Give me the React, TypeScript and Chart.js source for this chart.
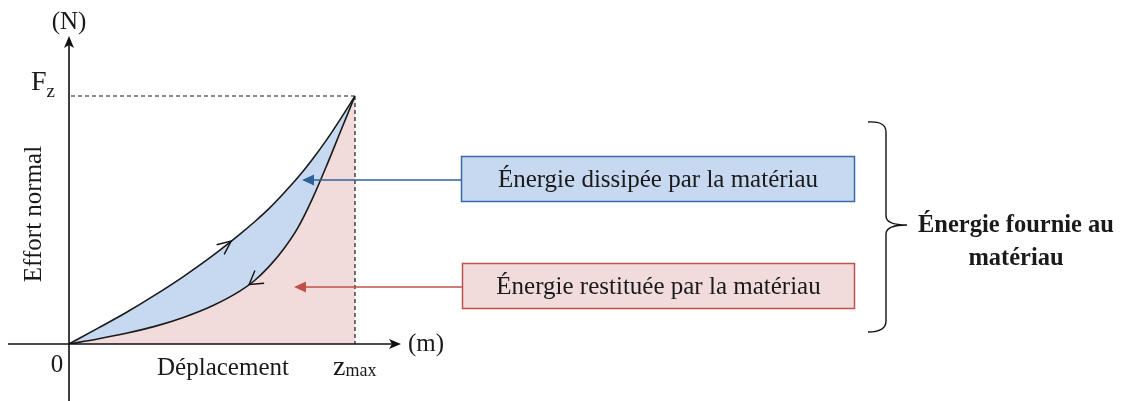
import React, { useEffect, useRef } from "react";
import { Chart, registerables } from "chart.js";

Chart.register(...registerables);

// Displacement, normalised to z_max = 1
const displacement = [0, 0.1, 0.2, 0.3, 0.4, 0.5, 0.6, 0.65, 0.7, 0.75, 0.8, 0.85, 0.9, 0.95, 1];
// Normal force during loading (upper curve), normalised to F_z = 1
const loadingForce = [0, 0.063, 0.127, 0.197, 0.272, 0.354, 0.445, 0.494, 0.547, 0.607, 0.671, 0.743, 0.822, 0.909, 1];
// Normal force during unloading (lower curve)
const unloadingForce = [0, 0.02, 0.043, 0.071, 0.107, 0.153, 0.215, 0.257, 0.313, 0.382, 0.468, 0.583, 0.717, 0.859, 1];

const yAxisUnit = "(N)";
const xAxisUnit = "(m)";
const yAxisTitle = "Effort normal";
const xAxisTitle = "Déplacement";
const originLabel = "0";
const forceTick = ["F", "z"];
const dispTick = ["z", "max"];
const dissipatedLabel = "Énergie dissipée par la matériau";
const restoredLabel = "Énergie restituée par la matériau";
const suppliedLabel = ["Énergie fournie au", "matériau"];

const SERIF = "'Liberation Serif', 'Times New Roman', serif";

function interp(xs: number[], ys: number[], x: number) {
  for (let i = 0; i < xs.length - 1; i++) {
    if (x >= xs[i] && x <= xs[i + 1]) {
      const t = (x - xs[i]) / (xs[i + 1] - xs[i]);
      return ys[i] + t * (ys[i + 1] - ys[i]);
    }
  }
  return ys[ys.length - 1];
}

export default function App() {
  const ref = useRef<HTMLCanvasElement>(null);

  useEffect(() => {
    document.body.style.margin = "0";
    const canvas = ref.current!;

    const annot = {
      id: "annot",
      afterDraw(chart: any) {
        const ctx: CanvasRenderingContext2D = chart.ctx;
        const xs = chart.scales.x;
        const ys = chart.scales.y;
        const X = (v: number) => xs.getPixelForValue(v);
        const Y = (v: number) => ys.getPixelForValue(v);
        const x0 = X(0), y0 = Y(0), x1 = X(1), y1 = Y(1);
        ctx.save();

        // dashed guides
        ctx.strokeStyle = "#1a1a1a";
        ctx.lineWidth = 1.2;
        ctx.setLineDash([4, 3]);
        ctx.beginPath();
        ctx.moveTo(x0 + 2, y1);
        ctx.lineTo(x1, y1);
        ctx.moveTo(x1, y1);
        ctx.lineTo(x1, y0);
        ctx.stroke();
        ctx.setLineDash([]);

        // axes
        ctx.strokeStyle = "#111";
        ctx.fillStyle = "#111";
        ctx.lineWidth = 1.6;
        ctx.beginPath();
        ctx.moveTo(x0, 401);
        ctx.lineTo(x0, 44);
        ctx.moveTo(8, y0);
        ctx.lineTo(394, y0);
        ctx.stroke();
        // y arrowhead
        ctx.beginPath();
        ctx.moveTo(x0, 36);
        ctx.lineTo(x0 + 5, 48);
        ctx.lineTo(x0, 45);
        ctx.lineTo(x0 - 5, 48);
        ctx.closePath();
        ctx.fill();
        // x arrowhead
        ctx.beginPath();
        ctx.moveTo(401, y0);
        ctx.lineTo(389, y0 - 5);
        ctx.lineTo(392, y0);
        ctx.lineTo(389, y0 + 5);
        ctx.closePath();
        ctx.fill();

        // labels
        ctx.fillStyle = "#1a1a1a";
        ctx.textAlign = "center";
        ctx.textBaseline = "middle";
        ctx.font = `25px ${SERIF}`;
        ctx.fillText(yAxisUnit, x0, 22);
        ctx.textAlign = "left";
        ctx.fillText(xAxisUnit, 408, y0);
        ctx.textBaseline = "alphabetic";
        ctx.textAlign = "center";
        ctx.fillText(originLabel, 57, 372);
        ctx.fillText(xAxisTitle, 223, 375);
        // F_z
        ctx.textAlign = "left";
        ctx.font = `28px ${SERIF}`;
        ctx.fillText(forceTick[0], 31, 90);
        const fw = ctx.measureText(forceTick[0]).width;
        ctx.font = `19px ${SERIF}`;
        ctx.fillText(forceTick[1], 31 + fw, 97);
        // z_max
        ctx.font = `28px ${SERIF}`;
        ctx.fillText(dispTick[0], 333, 375);
        const zw = ctx.measureText(dispTick[0]).width;
        ctx.font = `18px ${SERIF}`;
        ctx.fillText(dispTick[1], 333 + zw, 376);
        // y title rotated
        ctx.save();
        ctx.translate(34, 214);
        ctx.rotate(-Math.PI / 2);
        ctx.textAlign = "center";
        ctx.textBaseline = "middle";
        ctx.font = `25px ${SERIF}`;
        ctx.fillText(yAxisTitle, 0, 0);
        ctx.restore();

        // chevrons on curves
        const chevron = (arr: number[], dx: number, dir: number, spread: number) => {
          const px = X(dx), py = Y(interp(displacement, arr, dx));
          const ax = X(dx - 0.02), ay = Y(interp(displacement, arr, dx - 0.02));
          const bx = X(dx + 0.02), by = Y(interp(displacement, arr, dx + 0.02));
          let ang = Math.atan2(by - ay, bx - ax);
          if (dir < 0) ang += Math.PI;
          const back = ang + Math.PI;
          const L = 15;
          ctx.beginPath();
          ctx.moveTo(px + L * Math.cos(back - spread), py + L * Math.sin(back - spread));
          ctx.lineTo(px, py);
          ctx.lineTo(px + L * Math.cos(back + spread), py + L * Math.sin(back + spread));
          ctx.strokeStyle = "#111";
          ctx.lineWidth = 1.4;
          ctx.stroke();
        };
        chevron(loadingForce, 0.567, 1, 0.42);
        chevron(unloadingForce, 0.63, -1, 0.55);

        // boxes
        const box = (x: number, y: number, w: number, h: number, fill: string, stroke: string, text: string) => {
          ctx.fillStyle = fill;
          ctx.fillRect(x, y, w, h);
          ctx.strokeStyle = stroke;
          ctx.lineWidth = 1.5;
          ctx.strokeRect(x, y, w, h);
          ctx.fillStyle = "#1a1a1a";
          ctx.font = `25px ${SERIF}`;
          ctx.textAlign = "center";
          ctx.textBaseline = "middle";
          ctx.fillText(text, x + w / 2, y + h / 2 + 1);
        };
        box(461.5, 156.5, 393, 45, "#c6d9f1", "#3a6aa5", dissipatedLabel);
        box(462.5, 263.5, 392, 45, "#f2dcdb", "#c0504d", restoredLabel);

        // arrows from boxes
        const arrow = (fromX: number, y: number, tipX: number, color: string) => {
          ctx.strokeStyle = color;
          ctx.fillStyle = color;
          ctx.lineWidth = 1.5;
          ctx.beginPath();
          ctx.moveTo(fromX, y);
          ctx.lineTo(tipX + 10, y);
          ctx.stroke();
          ctx.beginPath();
          ctx.moveTo(tipX, y);
          ctx.lineTo(tipX + 12, y - 5.5);
          ctx.lineTo(tipX + 12, y + 5.5);
          ctx.closePath();
          ctx.fill();
        };
        arrow(461, 180, 302, "#2f6098");
        arrow(462, 287, 294, "#c0504d");

        // brace
        ctx.strokeStyle = "#111";
        ctx.lineWidth = 1.4;
        ctx.beginPath();
        ctx.moveTo(868, 122);
        ctx.quadraticCurveTo(886, 121, 886, 132);
        ctx.lineTo(886, 216);
        ctx.quadraticCurveTo(886, 225, 907, 225);
        ctx.quadraticCurveTo(886, 225, 886, 234);
        ctx.lineTo(886, 321);
        ctx.quadraticCurveTo(886, 332, 868, 332);
        ctx.stroke();

        ctx.fillStyle = "#1a1a1a";
        ctx.font = `bold 24.5px ${SERIF}`;
        ctx.textAlign = "center";
        ctx.textBaseline = "alphabetic";
        ctx.fillText(suppliedLabel[0], 1016, 232);
        ctx.fillText(suppliedLabel[1], 1016, 265);

        ctx.restore();
      },
    };

    const chart = new Chart(canvas, {
      type: "line",
      data: {
        datasets: [
          {
            label: "Déchargement",
            data: displacement.map((x, i) => ({ x, y: unloadingForce[i] })),
            borderColor: "#1a1a1a",
            borderWidth: 1.6,
            backgroundColor: "#f2dcdb",
            fill: "origin",
            pointRadius: 0,
            cubicInterpolationMode: "monotone",
          },
          {
            label: "Chargement",
            data: displacement.map((x, i) => ({ x, y: loadingForce[i] })),
            borderColor: "#1a1a1a",
            borderWidth: 1.6,
            backgroundColor: "#c6d9f0",
            fill: "-1",
            pointRadius: 0,
            cubicInterpolationMode: "monotone",
          },
        ],
      },
      options: {
        responsive: false,
        animation: false,
        events: [],
        layout: { padding: { left: 69, right: 766, top: 96, bottom: 57 } },
        scales: {
          x: { type: "linear", min: 0, max: 1, display: false },
          y: { type: "linear", min: 0, max: 1, display: false },
        },
        plugins: { legend: { display: false }, tooltip: { enabled: false } },
      },
      plugins: [annot],
    });
    return () => chart.destroy();
  }, []);

  return <canvas ref={ref} width={1121} height={401} style={{ display: "block" }} />;
}
